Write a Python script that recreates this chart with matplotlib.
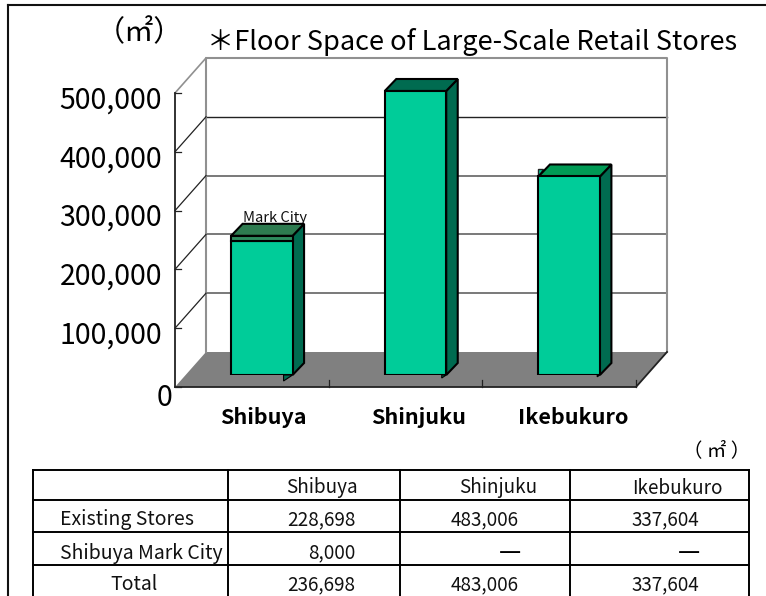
import matplotlib
matplotlib.use("Agg")
import matplotlib.pyplot as plt
from matplotlib.patches import Polygon

plt.rcParams['font.family'] = ['Noto Sans CJK JP', 'DejaVu Sans']

categories = ['Shibuya', 'Shinjuku', 'Ikebukuro']
existing = [228698, 483006, 337604]
mark_city = [8000, 0, 0]
y_ticks = [0, 100000, 200000, 300000, 400000, 500000]
y_labels = ['0', '100,000', '200,000', '300,000', '400,000', '500,000']
table_cols = ['Shibuya', 'Shinjuku', 'Ikebukuro']
table_rows = [
    ['Existing Stores', '228,698', '483,006', '337,604'],
    ['Shibuya Mark City', '8,000', '—', '—'],
    ['Total', '236,698', '483,006', '337,604'],
]
title = '＊Floor Space of Large-Scale Retail Stores'

W, H = 766, 596
fig = plt.figure(figsize=(W / 100, H / 100), dpi=100, facecolor='white')

pg = fig.add_axes([0, 0, 1, 1])
pg.set_xlim(0, W); pg.set_ylim(H, 0); pg.axis('off')

X0, X1, Y0, Y1 = 185.0, 646.0, 375.0, 81.0
ax = fig.add_axes([X0 / W, 1 - Y0 / H, (X1 - X0) / W, (Y0 - Y1) / H])
ax.set_xlim(-0.5, 2.5); ax.set_ylim(0, 500000); ax.axis('off')
ax.patch.set_alpha(0)
px_x = 3 / (X1 - X0)
px_y = 500000 / (Y0 - Y1)


def P(cat, val, dx=0.0, dy=0.0):
    return (cat + dx * px_x, val + dy * px_y)


GRAY = '#808080'
INK = '#222222'
FX, FY, BX, BY = -10, -12, 21, 23   # front and back planes, offset from the bar plane

ax.add_patch(Polygon([P(-.5, 0, FX, FY), P(2.5, 0, FX, FY), P(2.5, 0, BX, BY), P(-.5, 0, BX, BY)],
                     closed=True, fc=GRAY, ec='none', clip_on=False, zorder=1))
for v in y_ticks[1:-1]:
    dark = v == 400000
    ax.plot(*zip(P(-.5, v, BX, BY), P(2.5, v, BX, BY)), color=INK if dark else '#6e6e6e',
            lw=1.0 if dark else 1.3, clip_on=False, zorder=2)
ax.plot(*zip(P(-.5, 0, BX, BY), P(-.5, 500000, BX, BY), P(2.5, 500000, BX, BY), P(2.5, 0, BX, BY)),
        color='#909090', lw=1.5, clip_on=False, zorder=2)
for v, lab in zip(y_ticks, y_labels):
    if v > 0:
        top = v == 500000
        ax.plot(*zip(P(-.5, v, FX, FY), P(-.5, v, BX, BY)), color='#909090' if top else INK,
                lw=1.2 if top else 0.9, clip_on=False, zorder=3)
    ax.plot(*zip(P(-.5, v, FX, FY), P(-.5, v, FX + 6, FY)), color=INK, lw=0.9, clip_on=False, zorder=3)
    if v == 0:
        pg.text(172, Y0 - FY + 11, lab, ha='right', va='center', fontsize=20.5, color='black', zorder=5)
    else:
        pg.text(162, Y0 - FY + 7.5 - v / px_y, lab, ha='right', va='center', fontsize=20.5,
                color='black', zorder=5)
ax.plot(*zip(P(-.5, 0, FX, FY), P(-.5, 500000, FX, FY)), color=INK, lw=1.3, clip_on=False, zorder=3)
ax.plot(*zip(P(-.5, 0, FX, FY), P(2.5, 0, FX, FY), P(2.5, 0, BX, BY)), color=INK, lw=1.3,
        clip_on=False, zorder=3)
for c in (0.5, 1.5, 2.5):
    ax.plot(*zip(P(c, 0, FX, FY), P(c, 0, FX, FY + 7)), color=INK, lw=0.9, clip_on=False, zorder=3)

w = 0.2
FACE, SIDE = '#00CC99', '#006B50'
TOPS = ['#2E7B50', SIDE, '#009A55']
dxb, dyb = 11.5, 12
stub = [1.0, 0.5, 0.3]
ax.add_patch(Polygon([P(2 - w, existing[2]), P(2 - w, existing[2], 0, 7), P(2 - w, existing[2], 5, 7)],
                     closed=True, fc=FACE, ec=INK, lw=1.0, zorder=4, clip_on=False))
for i, c in enumerate(categories):
    total = existing[i] + mark_city[i]
    ax.add_patch(Polygon([P(i + w, 0, -9 * stub[i]), P(i + w, 0), P(i + w, 0, -9 * stub[i], -6 * stub[i])],
                         closed=True, fc=SIDE, ec='black', lw=0.8, zorder=4, clip_on=False))
    ax.bar(i, existing[i], width=2 * w, color=FACE, edgecolor='black', linewidth=1.5, zorder=6)
    if mark_city[i]:
        ax.bar(i, mark_city[i], bottom=existing[i], width=2 * w, color='#2E8B5E', edgecolor='black',
               linewidth=1.5, zorder=6)
    ax.add_patch(Polygon([P(i + w, 0), P(i + w, total), P(i + w, total, dxb, dyb), P(i + w, 0, dxb, dyb)],
                         closed=True, fc=SIDE, ec='black', lw=1.5, zorder=5, clip_on=False))
    ax.add_patch(Polygon([P(i - w, total), P(i + w, total), P(i + w, total, dxb, dyb), P(i - w, total, dxb, dyb)],
                         closed=True, fc=TOPS[i], ec='black', lw=1.5, zorder=5, clip_on=False))
    pg.text(263 + i * 155.25, 418, c, ha='center', va='center', fontsize=15.5,
            fontweight='bold', color='black', zorder=5)

pg.text(275, 218, 'Mark City', ha='center', va='center', fontsize=10.6, color='#111111', zorder=8)
pg.text(139, 33, '（㎡）', ha='center', va='center', fontsize=21, color='black')
pg.text(472.5, 42, title, ha='center', va='center', fontsize=19.6, color='black')
pg.text(716.5, 451, '（ ㎡ ）', ha='center', va='center', fontsize=14, color='black')

pg.plot([8, 8], [596, 5], color='#111111', lw=1.5)
pg.plot([8, 766], [5, 5], color='#111111', lw=1.5)

xs = [33, 228, 400, 570, 748.5]
ys = [470, 500, 532, 565, 596]
for y in ys[:-1]:
    pg.plot([xs[0], xs[-1]], [y, y], color='black', lw=1.4)
for x in xs:
    pg.plot([x, x], [ys[0], ys[-1]], color='black', lw=1.4)

TXT = '#111111'
FS = 13.6
for t, x in zip(table_cols, [322, 498, 677.5]):
    pg.text(x, 488, t, ha='center', va='center', fontsize=FS, color=TXT)
row_y = [520, 553, 585]
num_x = [321.5, 485, 665]
dash_x = [None, 510, 689]
for r, row in enumerate(table_rows):
    yc = row_y[r]
    if r < 2:
        pg.text(60, yc, row[0], ha='left', va='center', fontsize=14, color=TXT)
    else:
        pg.text(134, yc, row[0], ha='center', va='center', fontsize=14, color=TXT)
    for k, val in enumerate(row[1:]):
        if val == '—':
            pg.text(dash_x[k], yc - 1, val, ha='center', va='center', fontsize=18, color='black')
        elif val == '8,000':
            pg.text(355, yc, val, ha='right', va='center', fontsize=FS, color=TXT)
        else:
            pg.text(num_x[k], yc, val, ha='center', va='center', fontsize=FS, color=TXT)

fig.savefig('out.png', dpi=100)
